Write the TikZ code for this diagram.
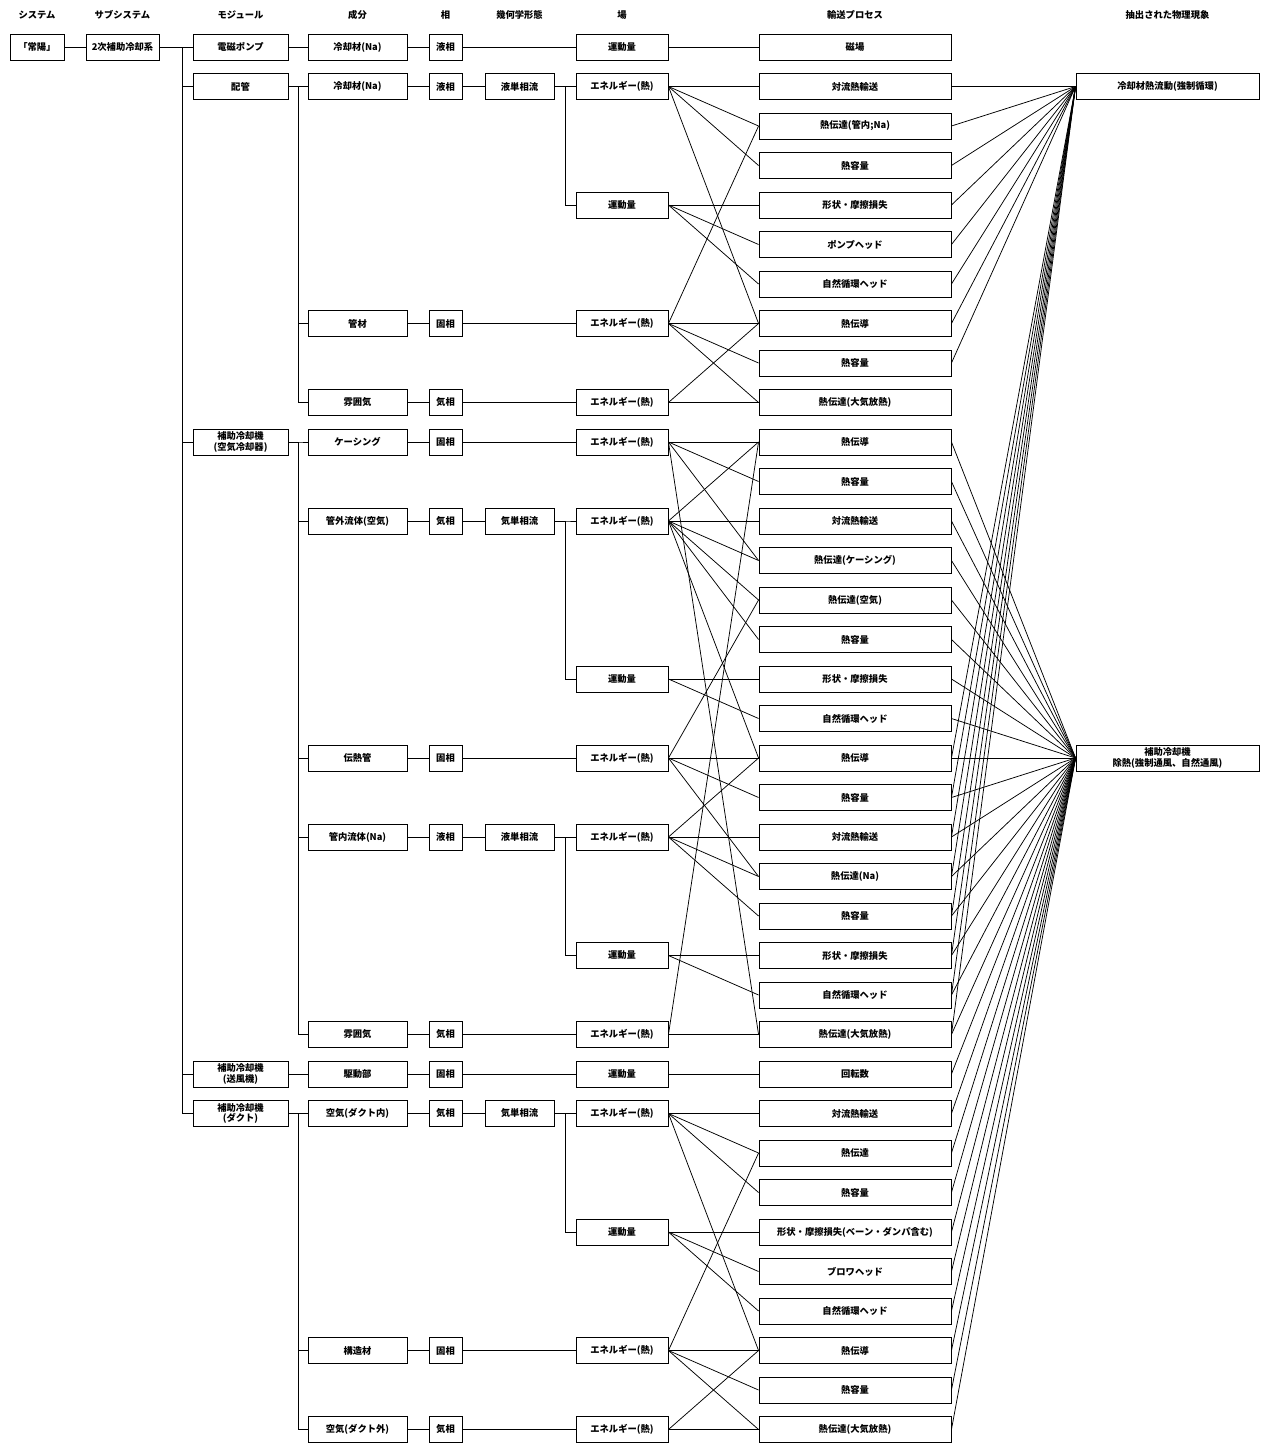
\documentclass[tikz,border=0pt]{standalone}
\usepackage{fontspec}
\setmainfont{Noto Sans CJK JP}
\newcommand\jfs{\fontsize{9.3}{10.8}\selectfont\bfseries}
\begin{document}
\begin{tikzpicture}[x=1pt,y=-1pt,
  bx/.style={draw, line width=0.9pt, minimum height=26pt, inner sep=0pt, align=center, font=\jfs},
  hd/.style={font=\jfs, inner sep=0pt},
  ln/.style={line width=0.75pt},
  tr/.style={line width=1pt},
  csys/.style={bx, minimum width=54pt},
  csub/.style={bx, minimum width=73pt},
  cmod/.style={bx, minimum width=95pt},
  ccmp/.style={bx, minimum width=99pt},
  cph/.style={bx, minimum width=33pt},
  cgeo/.style={bx, minimum width=69pt},
  cfld/.style={bx, minimum width=92pt},
  cprc/.style={bx, minimum width=192pt},
  cphn/.style={bx, minimum width=183pt}]
\useasboundingbox (0,0) rectangle (1267,1443);
% headers
\node[hd] (h1) at (37,15) {システム};
\node[hd] (h2) at (122.5,15) {サブシステム};
\node[hd] (h3) at (240.5,15) {モジュール};
\node[hd] (h4) at (357.5,15) {成分};
\node[hd] (h5) at (445.5,15) {相};
\node[hd] (h6) at (519.5,15) {幾何学形態};
\node[hd] (h7) at (622,15) {場};
\node[hd] (h8) at (855,15) {輸送プロセス};
\node[hd] (h9) at (1167.5,15) {抽出された物理現象};
% system, subsystem
\node[csys] (sys) at (37,47) {「常陽」};
\node[csub] (sub) at (122.5,47) {2次補助冷却系};
% modules
\node[cmod] (m0) at (240.5,47) {電磁ポンプ};
\node[cmod] (m1) at (240.5,86.5) {配管};
\node[cmod] (m10) at (240.5,442) {補助冷却機\\(空気冷却器)};
\node[cmod] (m26) at (240.5,1074) {補助冷却機\\(送風機)};
\node[cmod] (m27) at (240.5,1113.5) {補助冷却機\\(ダクト)};
% components
\foreach \i/\lab in {0/冷却材(Na), 1/冷却材(Na), 7/管材, 9/雰囲気, 10/ケーシング, 12/管外流体(空気), 18/伝熱管, 20/管内流体(Na), 25/雰囲気, 26/駆動部, 27/空気(ダクト内), 33/構造材, 35/空気(ダクト外)}
  \node[ccmp] (c\i) at (357.5,{47+39.5*\i}) {\lab};
% phases
\foreach \i/\lab in {0/液相, 1/液相, 7/固相, 9/気相, 10/固相, 12/気相, 18/固相, 20/液相, 25/気相, 26/固相, 27/気相, 33/固相, 35/気相}
  \node[cph] (p\i) at (445.5,{47+39.5*\i}) {\lab};
% geometry
\foreach \i/\lab in {1/液単相流, 12/気単相流, 20/液単相流, 27/気単相流}
  \node[cgeo] (g\i) at (519.5,{47+39.5*\i}) {\lab};
% fields
\foreach \i/\lab in {0/運動量, 1/エネルギー(熱), 4/運動量, 7/エネルギー(熱), 9/エネルギー(熱), 10/エネルギー(熱), 12/エネルギー(熱), 16/運動量, 18/エネルギー(熱), 20/エネルギー(熱), 23/運動量, 25/エネルギー(熱), 26/運動量, 27/エネルギー(熱), 30/運動量, 33/エネルギー(熱), 35/エネルギー(熱)}
  \node[cfld] (f\i) at (622,{47+39.5*\i}) {\lab};
% transport processes
\foreach \i/\lab in {0/磁場, 1/対流熱輸送, 2/熱伝達(管内;Na), 3/熱容量, 4/形状・摩擦損失, 5/ポンプヘッド, 6/自然循環ヘッド, 7/熱伝導, 8/熱容量, 9/熱伝達(大気放熱), 10/熱伝導, 11/熱容量, 12/対流熱輸送, 13/熱伝達(ケーシング), 14/熱伝達(空気), 15/熱容量, 16/形状・摩擦損失, 17/自然循環ヘッド, 18/熱伝導, 19/熱容量, 20/対流熱輸送, 21/熱伝達(Na), 22/熱容量, 23/形状・摩擦損失, 24/自然循環ヘッド, 25/熱伝達(大気放熱), 26/回転数, 27/対流熱輸送, 28/熱伝達, 29/熱容量, 30/形状・摩擦損失(ベーン・ダンパ含む), 31/ブロワヘッド, 32/自然循環ヘッド, 33/熱伝導, 34/熱容量, 35/熱伝達(大気放熱)}
  \node[cprc] (t\i) at (855,{47+39.5*\i}) {\lab};
% phenomena
\node[cphn] (pa) at (1167.5,86.5) {冷却材熱流動(強制循環)};
\node[cphn] (pb) at (1167.5,758) {補助冷却機\\除熱(強制通風、自然通風)};
% tree connectors
\draw[tr] (sys.east) -- (sub.west);
\draw[tr] (sub.east) -- (m0.west);
\foreach \m in {1,10,26,27}
  \draw[tr] (sub.east) -- ++(23,0) |- (m\m.west);
\draw[tr] (m0.east) -- (c0.west);
\draw[tr] (m26.east) -- (c26.west);
\foreach \c in {1,7,9}
  \draw[tr] (m1.east) -- ++(10,0) |- (c\c.west);
\foreach \c in {10,12,18,20,25}
  \draw[tr] (m10.east) -- ++(10,0) |- (c\c.west);
\foreach \c in {27,33,35}
  \draw[tr] (m27.east) -- ++(10,0) |- (c\c.west);
\foreach \i in {0,1,7,9,10,12,18,20,25,26,27,33,35}
  \draw[tr] (c\i.east) -- (p\i.west);
\foreach \i in {1,12,20,27}
  \draw[tr] (p\i.east) -- (g\i.west);
\foreach \i in {0,7,9,10,18,25,26,33,35}
  \draw[tr] (p\i.east) -- (f\i.west);
\foreach \g/\f in {1/1, 1/4, 12/12, 12/16, 20/20, 20/23, 27/27, 27/30}
  \draw[tr] (g\g.east) -- ++(11,0) |- (f\f.west);
% field -> transport process
\foreach \a/\b in {0/0, 1/1, 1/2, 1/3, 1/7, 4/4, 4/5, 4/6, 7/2, 7/7, 7/8, 7/9, 9/7, 9/9,
  10/10, 10/11, 10/13, 10/25, 12/10, 12/12, 12/13, 12/14, 12/15, 12/18, 16/16, 16/17,
  18/14, 18/18, 18/19, 18/21, 20/18, 20/20, 20/21, 20/22, 23/23, 23/24, 25/10, 25/25,
  26/26, 27/27, 27/28, 27/29, 27/33, 30/30, 30/31, 30/32, 33/28, 33/33, 33/34, 33/35, 35/33, 35/35}
  \draw[ln] (f\a.east) -- (t\b.west);
% transport process -> phenomena
\foreach \b in {1,2,3,4,5,6,7,8,18,19,20,21,22,23,24,25}
  \draw[ln] (t\b.east) -- (pa.west);
\foreach \b in {10,11,12,13,14,15,16,17,18,19,20,21,22,23,24,25,26,27,28,29,30,31,32,33,34,35}
  \draw[ln] (t\b.east) -- (pb.west);
\end{tikzpicture}
\end{document}
